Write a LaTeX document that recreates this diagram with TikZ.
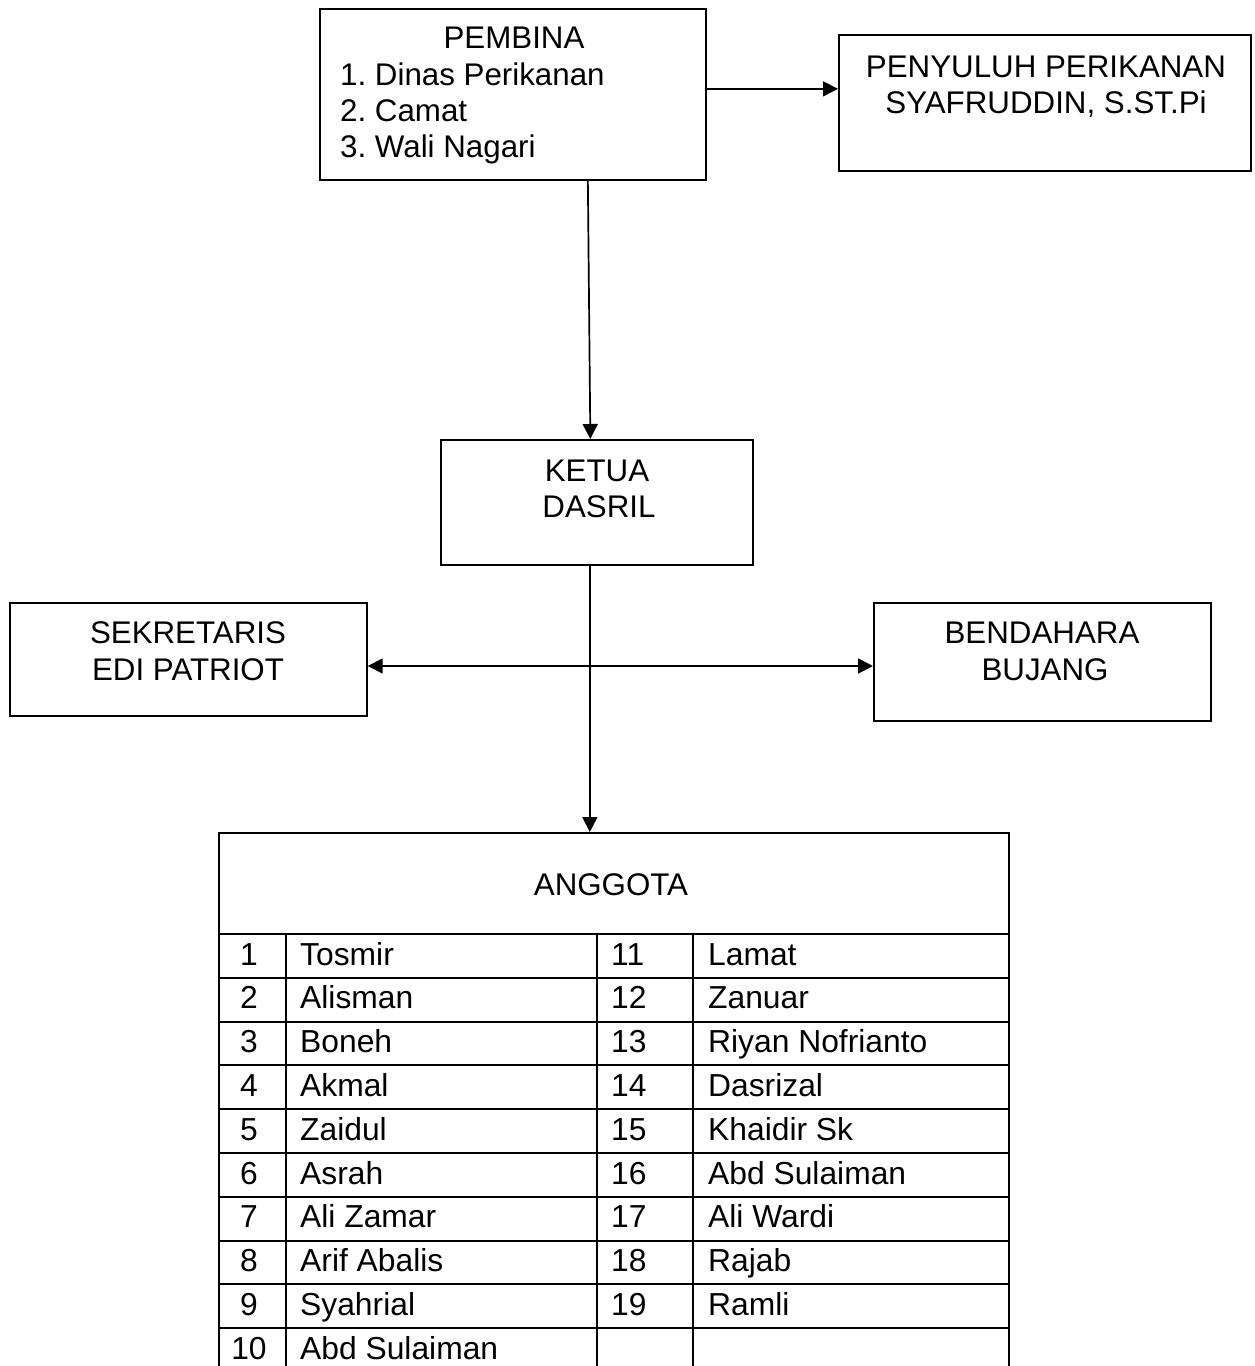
\documentclass[tikz,border=0pt]{standalone}
\usepackage{fontspec}
\setmainfont{Liberation Sans}
\usetikzlibrary{arrows.meta,calc}
\frenchspacing
\begin{document}
\begin{tikzpicture}[x=1pt,y=-1pt,
  font=\fontsize{31.3}{36}\selectfont,
  box/.style={draw, line width=1.7pt, inner sep=0pt, anchor=north west},
  txt/.style={inner sep=0pt, anchor=base},
  txtl/.style={inner sep=0pt, anchor=base west},
  tabtxt/.style={font=\fontsize{31.8}{36}\selectfont},
  arr/.style={-{Triangle[length=15pt,width=15pt]}, line width=1.7pt},
  tline/.style={line width=1.9pt}]
\useasboundingbox (0,0) rectangle (1255,1366);
% boxes
\node[box, minimum width=386pt, minimum height=171pt] (pembina) at (319,8) {};
\node[box, minimum width=412pt, minimum height=136pt] (penyuluh) at (838,34) {};
\node[box, minimum width=312pt, minimum height=125pt] (ketua) at (440,439) {};
\node[box, minimum width=357pt, minimum height=113pt] (sekretaris) at (9,602) {};
\node[box, minimum width=337pt, minimum height=118pt] (bendahara) at (873,602) {};
\node[box, line width=1.9pt, minimum width=790pt, minimum height=545pt] (anggota) at (218,832) {};
% texts
\node[txt] (tpembina) at (514,48) {PEMBINA};
\node[txtl] (tp1) at (340,85) {1. Dinas Perikanan};
\node[txtl] (tp2) at (340,121) {2. Camat};
\node[txtl] (tp3) at (340,157) {3. Wali Nagari};
\node[txt] (tpen1) at (1046,77) {PENYULUH PERIKANAN};
\node[txt] (tpen2) at (1046,113) {SYAFRUDDIN, S.ST.Pi};
\node[txt] (tk1) at (597,481) {KETUA};
\node[txt] (tk2) at (599,517) {DASRIL};
\node[txt] (ts1) at (188,643) {SEKRETARIS};
\node[txt] (ts2) at (188,680) {EDI PATRIOT};
\node[txt] (tb1) at (1042,643) {BENDAHARA};
\node[txt] (tb2) at (1045,680) {BUJANG};
\node[txt] (tang) at (611,895) {ANGGOTA};
% connectors
\draw[arr] ([yshift=5.5pt]pembina.east) -- ([yshift=5.5pt]pembina.east -| penyuluh.west);
\draw[arr] ([xshift=75pt]pembina.south) -- ([xshift=-6.5pt]ketua.north);
\draw[arr] ([xshift=-7pt]ketua.south) -- ([xshift=-7pt]ketua.south |- anggota.north);
\coordinate (jn) at (589,666);
\draw[arr] (jn) -- (jn -| sekretaris.east);
\draw[arr] (jn) -- (jn -| bendahara.west);
% table grid
\draw[tline] (218,934) -- (1008,934);
\foreach \k in {1,...,9} {
  \pgfmathsetmacro{\yy}{934+43.8*\k}
  \draw[tline] (218,\yy) -- (1008,\yy);
}
\foreach \xx in {286,597,693} {
  \draw[tline] (\xx,934) -- (\xx,1372);
}
% table text
\foreach \nm [count=\i] in {Tosmir,Alisman,Boneh,Akmal,Zaidul,Asrah,Ali Zamar,Arif Abalis,Syahrial,Abd Sulaiman} {
  \pgfmathsetmacro{\yy}{965+43.8*(\i-1)}
  \node[txt, tabtxt] (ln\i) at (249,\yy) {\i};
  \node[txtl, tabtxt] (lm\i) at (300,\yy) {\nm};
}
\foreach \nm [count=\i from 11] in {Lamat,Zanuar,Riyan Nofrianto,Dasrizal,Khaidir Sk,Abd Sulaiman,Ali Wardi,Rajab,Ramli} {
  \pgfmathsetmacro{\yy}{965+43.8*(\i-11)}
  \node[txtl, tabtxt] (rn\i) at (611,\yy) {\i};
  \node[txtl, tabtxt] (rm\i) at (708,\yy) {\nm};
}
\end{tikzpicture}
\end{document}
